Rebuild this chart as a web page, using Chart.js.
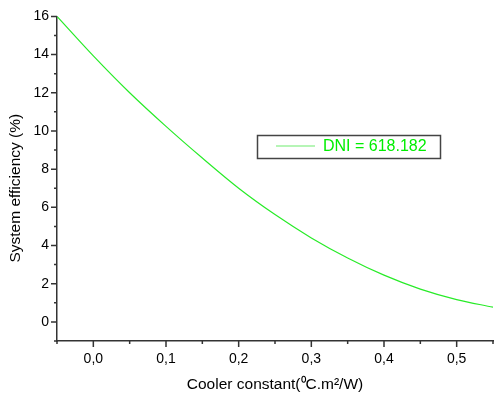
<!DOCTYPE html>
<html>
<head>
<meta charset="utf-8">
<script src="https://cdn.jsdelivr.net/npm/chart.js@4"></script>
<style>
  html, body { margin: 0; padding: 0; background: #fff; }
  #wrap { width: 500px; height: 399px; }
</style>
</head>
<body>
<div id="wrap"><canvas id="c" width="500" height="399"></canvas></div>
<script>
// ---- data ----
const coolerConstant = [-0.05, 0.0, 0.05, 0.10, 0.15, 0.20, 0.25, 0.30, 0.35, 0.40, 0.45, 0.50, 0.55];
const efficiency     = [16.0, 13.93, 12.0, 10.24, 8.58, 7.0, 5.62, 4.40, 3.35, 2.45, 1.72, 1.17, 0.77];
const seriesLabel = 'DNI = 618.182';
const xTickValues = [0.0, 0.1, 0.2, 0.3, 0.4, 0.5];
const xMinorValues = [-0.05, 0.05, 0.15, 0.25, 0.35, 0.45, 0.55];
const yTickValues = [0, 2, 4, 6, 8, 10, 12, 14, 16];
const yMinorValues = [-1, 1, 3, 5, 7, 9, 11, 13, 15];
const xTitle = 'Cooler constant(\u2070C.m\u00B2/W)';
const yTitle = 'System efficiency (%)';

const FONT = "'Liberation Sans', Arial, sans-serif";
const AXIS_COLOR = '#333';

const tickPlugin = {
  id: 'originTicks',
  afterDraw(chart) {
    const ctx = chart.ctx;
    const xs = chart.scales.x, ys = chart.scales.y;
    const area = chart.chartArea;
    ctx.save();
    ctx.strokeStyle = AXIS_COLOR;
    ctx.lineWidth = 1.5;
    ctx.beginPath();
    xTickValues.forEach(v => { const p = xs.getPixelForValue(v); ctx.moveTo(p, area.bottom); ctx.lineTo(p, area.bottom + 6); });
    xMinorValues.forEach(v => { const p = xs.getPixelForValue(v); ctx.moveTo(p, area.bottom); ctx.lineTo(p, area.bottom + 3); });
    yTickValues.forEach(v => { const p = ys.getPixelForValue(v); ctx.moveTo(area.left, p); ctx.lineTo(area.left - 6, p); });
    yMinorValues.forEach(v => { const p = ys.getPixelForValue(v); ctx.moveTo(area.left, p); ctx.lineTo(area.left - 3, p); });
    ctx.stroke();

    // y axis title (drawn here so it can sit where the reference puts it)
    ctx.save();
    ctx.fillStyle = '#000';
    ctx.font = '15.5px ' + FONT;
    ctx.textAlign = 'center';
    ctx.textBaseline = 'middle';
    ctx.translate(16, (area.top + area.bottom) / 2 + 9.5);
    ctx.rotate(-Math.PI / 2);
    ctx.fillText(yTitle, 0, 0);
    ctx.restore();

    // legend box inside plot area
    const bx = area.left + (area.right - area.left) * 0.459;
    const by = area.top + (area.bottom - area.top) * 0.364;
    const bw = 183, bh = 23;
    ctx.strokeStyle = '#444';
    ctx.lineWidth = 1.5;
    ctx.strokeRect(Math.round(bx) + 0.5, Math.round(by) + 0.5, bw, bh);
    const cy = Math.round(by) + 11;
    ctx.strokeStyle = '#b6f5b6';
    ctx.lineWidth = 2;
    ctx.beginPath();
    ctx.moveTo(Math.round(bx) + 19, cy); ctx.lineTo(Math.round(bx) + 58, cy);
    ctx.stroke();
    ctx.fillStyle = '#00ee00';
    ctx.font = '16px ' + FONT;
    ctx.textBaseline = 'middle';
    ctx.textAlign = 'left';
    ctx.fillText(seriesLabel, Math.round(bx) + 66, cy + 1);
    ctx.restore();
  }
};

new Chart(document.getElementById('c'), {
  type: 'line',
  data: {
    datasets: [{
      label: seriesLabel,
      data: coolerConstant.map((x, i) => ({ x: x, y: efficiency[i] })),
      borderColor: 'rgb(40,235,40)',
      borderWidth: 1.2,
      pointRadius: 0,
      fill: false,
      tension: 0.4,
      cubicInterpolationMode: 'monotone'
    }]
  },
  options: {
    responsive: false,
    animation: false,
    devicePixelRatio: 1,
    layout: { padding: { top: 14, right: 7, left: 0, bottom: 0 } },
    plugins: { legend: { display: false }, tooltip: { enabled: false } },
    scales: {
      x: {
        type: 'linear', min: -0.05, max: 0.55,
        grid: { display: false, drawTicks: false },
        border: { display: true, color: AXIS_COLOR, width: 1.5 },
        afterBuildTicks: s => { s.ticks = xTickValues.map(v => ({ value: v })); },
        ticks: {
          color: '#000', padding: 10, maxRotation: 0, autoSkip: false,
          font: { family: FONT, size: 14 },
          callback: v => v.toFixed(1).replace('.', ',')
        },
        title: { display: true, text: xTitle, color: '#000', font: { family: FONT, size: 15.5 }, padding: { top: 0, bottom: 5 } },
        afterFit: s => { s.height = 58; }
      },
      y: {
        type: 'linear', min: -1, max: 16,
        grid: { display: false, drawTicks: false },
        border: { display: true, color: AXIS_COLOR, width: 1.5 },
        afterBuildTicks: s => { s.ticks = yTickValues.map(v => ({ value: v })); },
        ticks: {
          color: '#000', padding: 8, autoSkip: false,
          font: { family: FONT, size: 14 },
          callback: v => String(v)
        },
        title: { display: false },
        afterFit: s => { s.width = 57; }
      }
    }
  },
  plugins: [tickPlugin]
});
</script>
</body>
</html>
